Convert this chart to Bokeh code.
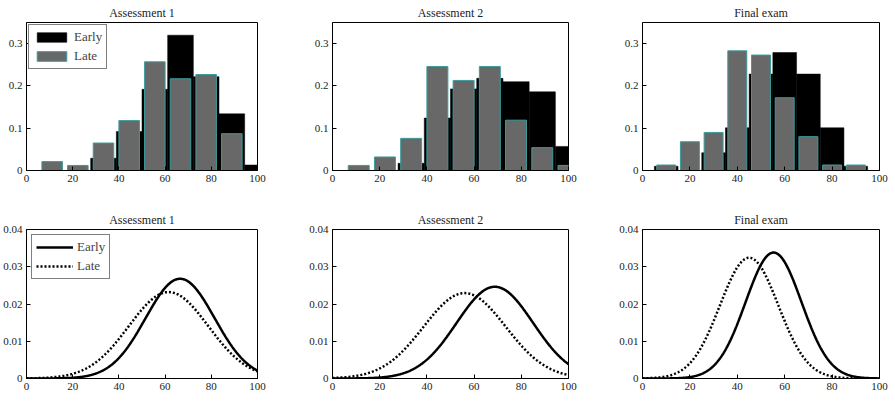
import numpy as np
from bokeh.plotting import figure
from bokeh.layouts import row, column
from bokeh.models import CustomJSTickFormatter, FixedTicker, Legend, LegendItem
from bokeh.embed import file_html
from bokeh.resources import INLINE

# ---------------- data ----------------
titles = ["Assessment 1", "Assessment 2", "Final exam"]

# histogram bin centres
centers_a1 = [100/9*k for k in range(1, 10)]
centers_a2 = [100/9*k for k in range(1, 10)]
centers_fx = [10, 20, 30, 40, 50, 60, 70, 80, 90]

early_a1 = [0.0, 0.0, 0.029, 0.092, 0.192, 0.320, 0.222, 0.134, 0.013]
late_a1 = [0.021, 0.012, 0.065, 0.118, 0.257, 0.217, 0.227, 0.087, 0.0]

early_a2 = [0.0, 0.0, 0.017, 0.124, 0.193, 0.218, 0.210, 0.186, 0.057]
late_a2 = [0.012, 0.032, 0.076, 0.246, 0.213, 0.246, 0.119, 0.054, 0.012]

early_fx = [0.010, 0.0, 0.042, 0.101, 0.228, 0.279, 0.228, 0.101, 0.010]
late_fx = [0.013, 0.068, 0.090, 0.283, 0.273, 0.172, 0.080, 0.013, 0.013]

# fitted normal distributions (mean, sd)
early_mean = [66.5, 68.8, 55.3]
early_sd = [14.9, 16.2, 11.8]
late_mean = [61.5, 56.0, 45.0]
late_sd = [17.2, 17.4, 12.3]

x_ticks = [0, 20, 40, 60, 80, 100]
hist_ticks = [0, 0.1, 0.2, 0.3]
pdf_ticks = [0, 0.01, 0.02, 0.03, 0.04]

# ---------------- style ----------------
FONT = "Liberation Serif"
GRAY = "#686868"
TEAL = "#3c9c9c"

col_left = [40, 40, 40]
col_right = [35, 34, 16]
col_fw = [231, 236, 237]


def base_fig(ci, top_row, title):
    fh = 148 if top_row else 149
    mt = 21 if top_row else 35
    mb = 24 if top_row else 39
    p = figure(frame_width=col_fw[ci], frame_height=fh,
               min_border_left=col_left[ci], min_border_right=col_right[ci],
               min_border_top=mt, min_border_bottom=mb,
               x_range=(0, 100), y_range=(0, 0.35 if top_row else 0.04),
               output_backend="svg", toolbar_location=None, title=title)
    p.title.align = "center"
    p.title.text_font = FONT
    p.title.text_font_size = "12px"
    p.title.text_font_style = "normal"
    p.title.text_color = "#222222"
    p.title.offset = 0
    p.title.standoff = 6
    p.xgrid.visible = False
    p.ygrid.visible = False
    p.outline_line_color = "black"
    p.outline_line_width = 1
    p.background_fill_color = "white"
    p.border_fill_color = "white"
    for ax in (p.xaxis[0], p.yaxis[0]):
        ax.major_tick_in = 4
        ax.major_tick_out = 0
        ax.minor_tick_line_color = None
        ax.axis_line_color = "black"
        ax.major_label_text_font = FONT
        ax.major_label_text_font_size = "11px"
        ax.major_label_text_color = "#222222"
        ax.major_label_standoff = 4
    p.xaxis.ticker = FixedTicker(ticks=x_ticks)
    if top_row:
        p.yaxis.ticker = FixedTicker(ticks=hist_ticks)
        p.yaxis.formatter = CustomJSTickFormatter(
            code="return tick == 0 ? '0' : tick.toFixed(1);")
    else:
        p.yaxis.ticker = FixedTicker(ticks=pdf_ticks)
        p.yaxis.formatter = CustomJSTickFormatter(
            code="return tick == 0 ? '0' : tick.toFixed(2);")
    return p


def style_legend(leg, margin):
    leg.margin = margin
    leg.padding = 4
    leg.spacing = 3
    leg.glyph_width = 37
    leg.glyph_height = 12
    leg.label_text_font = FONT
    leg.label_text_font_size = "13px"
    leg.label_standoff = 4
    leg.label_height = 12
    leg.border_line_color = "black"
    leg.border_line_width = 1
    leg.background_fill_alpha = 1


centers = [centers_a1, centers_a2, centers_fx]
earlies = [early_a1, early_a2, early_fx]
lates = [late_a1, late_a2, late_fx]

top_figs = []
for i in range(3):
    p = base_fig(i, True, titles[i])
    spacing = centers[i][1] - centers[i][0]
    r_e = p.vbar(x=centers[i], top=earlies[i], width=spacing,
                 fill_color="black", line_color="black", line_width=0.5)
    r_l = p.vbar(x=centers[i], top=lates[i], width=0.8 * spacing,
                 fill_color=GRAY, line_color=TEAL, line_width=1)
    if i == 0:
        leg = Legend(items=[LegendItem(label="Early", renderers=[r_e]),
                            LegendItem(label="Late", renderers=[r_l])],
                     location="top_left")
        style_legend(leg, 2)
        p.add_layout(leg)
    top_figs.append(p)

xs = np.linspace(0, 100, 401)
bot_figs = []
for i in range(3):
    p = base_fig(i, False, titles[i])
    ye = np.exp(-0.5 * ((xs - early_mean[i]) / early_sd[i]) ** 2) / (early_sd[i] * np.sqrt(2 * np.pi))
    yl = np.exp(-0.5 * ((xs - late_mean[i]) / late_sd[i]) ** 2) / (late_sd[i] * np.sqrt(2 * np.pi))
    r_e = p.line(xs, ye, line_color="black", line_width=2.5)
    r_l = p.line(xs, yl, line_color="black", line_width=2.5, line_dash="2 2")
    if i == 0:
        leg = Legend(items=[LegendItem(label="Early", renderers=[r_e]),
                            LegendItem(label="Late", renderers=[r_l])],
                     location="top_left")
        style_legend(leg, 5)
        p.add_layout(leg)
    bot_figs.append(p)

top_figs[0].margin = (0, 0, 0, -14)
bot_figs[0].margin = (0, 0, 0, -14)

layout = column(row(*top_figs, spacing=0), row(*bot_figs, spacing=0), spacing=0)

open("out.html", "w").write(file_html(layout, INLINE))
